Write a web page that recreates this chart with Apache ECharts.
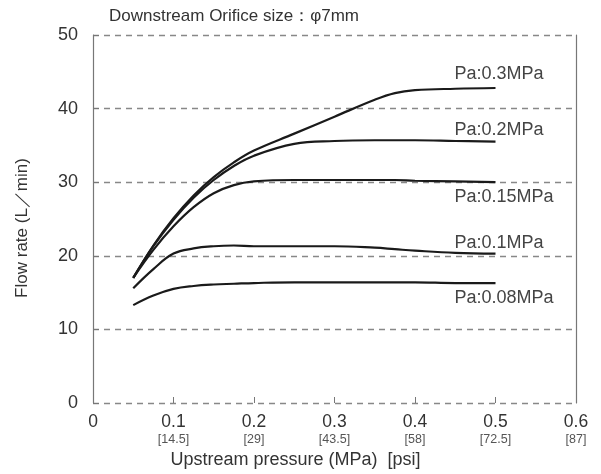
<!DOCTYPE html>
<html><head><meta charset="utf-8">
<script src="https://cdn.jsdelivr.net/npm/echarts@6/dist/echarts.min.js"></script>
<style>html,body{margin:0;padding:0;background:#fff}#c{width:601px;height:474px}</style>
</head><body><div id="c"></div>
<script>
const xTicks = [0, 0.1, 0.2, 0.3, 0.4, 0.5, 0.6];
const psiLabels = ['', '[14.5]', '[29]', '[43.5]', '[58]', '[72.5]', '[87]'];
const pressure = [0.05, 0.075, 0.1, 0.125, 0.15, 0.175, 0.2, 0.25, 0.3, 0.35, 0.375, 0.4, 0.45, 0.5];
const flow03 = [17.0, 21.4, 25.1, 28.2, 30.7, 32.7, 34.3, 36.6, 38.9, 41.2, 42.1, 42.5, 42.7, 42.8];
const flow02 = [17.0, 21.3, 24.9, 27.9, 30.3, 32.2, 33.6, 35.2, 35.6, 35.7, 35.7, 35.7, 35.6, 35.5];
const flow015 = [17.0, 20.8, 24.0, 26.6, 28.5, 29.6, 30.1, 30.3, 30.3, 30.3, 30.3, 30.2, 30.1, 30.0];
const flow01 = [15.6, 18.2, 20.3, 21.0, 21.3, 21.4, 21.3, 21.3, 21.3, 21.1, 20.9, 20.7, 20.4, 20.3];
const flow008 = [13.3, 14.6, 15.5, 15.9, 16.1, 16.2, 16.3, 16.4, 16.4, 16.4, 16.4, 16.4, 16.3, 16.3];
const seriesNames = ['Pa:0.3MPa', 'Pa:0.2MPa', 'Pa:0.15MPa', 'Pa:0.1MPa', 'Pa:0.08MPa'];
const seriesData = [flow03, flow02, flow015, flow01, flow008];
const labelOffsets = [[-41, -14], [-41, -12], [-41, 15], [-41, -11], [-41, 15]];

const FONT = 'Liberation Sans';
const chart = echarts.init(document.getElementById('c'));
chart.setOption({
  animation: false,
  title: {
    text: 'Downstream Orifice size：φ7mm',
    left: 104, top: 3,
    textStyle: {fontSize: 17, fontWeight: 'normal', color: '#333', fontFamily: FONT}
  },
  grid: {left: 93, right: 25, top: 35, bottom: 71},
  xAxis: {
    type: 'value', min: 0, max: 0.6, interval: 0.1,
    axisLine: {show: false},
    axisTick: {show: true, inside: true, length: 6, lineStyle: {color: '#777', width: 1}},
    splitLine: {show: false},
    axisLabel: {
      margin: 10,
      formatter: function (v) {
        const i = Math.round(v * 10);
        const p = psiLabels[i];
        return '{a|' + xTicks[i] + '}' + (p ? '\n{b|' + p + '}' : '\n{b| }');
      },
      rich: {
        a: {fontSize: 17.5, color: '#333', fontFamily: FONT, lineHeight: 19},
        b: {fontSize: 12.5, color: '#555', fontFamily: FONT, lineHeight: 15}
      }
    },
    name: 'Upstream pressure (MPa)  [psi]',
    nameLocation: 'middle', nameGap: 47,
    nameTextStyle: {fontSize: 18, color: '#333', fontFamily: FONT, padding: [0, 78, 0, 0]}
  },
  yAxis: [{
    type: 'value', min: 0, max: 50, interval: 10,
    axisLine: {show: true, lineStyle: {color: '#777', width: 1.2}},
    axisTick: {show: true, inside: true, length: 6, lineStyle: {color: '#777', width: 1}},
    splitLine: {show: true, lineStyle: {color: '#888', type: [6, 5], width: 1.3}},
    axisLabel: {fontSize: 18, color: '#333', fontFamily: FONT, margin: 15},
    name: 'Flow rate (L／min)', nameLocation: 'middle', nameGap: 62,
    nameTextStyle: {fontSize: 17, color: '#333', fontFamily: FONT, padding: [0, 18, 0, 0]}
  }, {
    type: 'value', min: 0, max: 50, interval: 10, position: 'right',
    axisLine: {show: true, lineStyle: {color: '#777', width: 1.2}},
    axisTick: {show: false}, axisLabel: {show: false}, splitLine: {show: false}
  }],
  series: seriesNames.map((n, k) => ({
    name: n, type: 'line', smooth: 0.4, symbol: 'none',
    data: pressure.map((p, i) => [p, seriesData[k][i]]),
    lineStyle: {color: '#1a1a1a', width: 2.2},
    endLabel: {
      show: true, formatter: n, align: 'left', verticalAlign: 'middle',
      offset: labelOffsets[k], distance: 0,
      fontSize: 18, color: '#444', fontFamily: FONT
    }
  }))
});
</script></body></html>
